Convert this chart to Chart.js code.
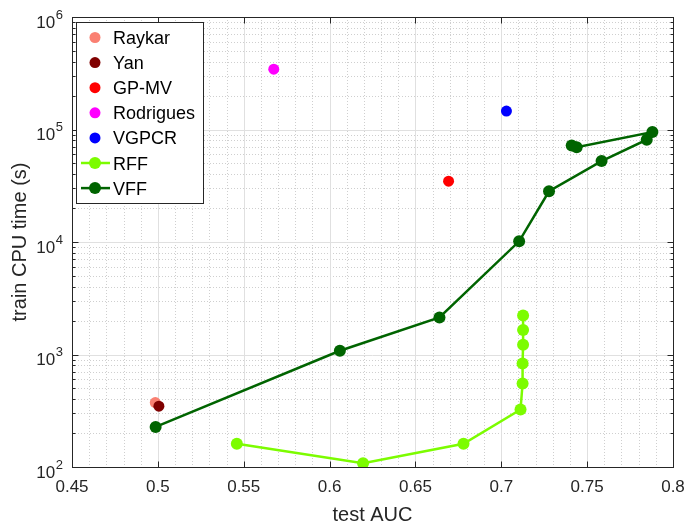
<!DOCTYPE html>
<html>
<head>
<meta charset="utf-8">
<title>train CPU time vs test AUC</title>
<script src="https://cdn.jsdelivr.net/npm/chart.js@4.4.1/dist/chart.umd.min.js"></script>
<style>
  html, body { margin: 0; padding: 0; background: #fff; }
  #wrap { width: 687px; height: 523px; }
</style>
</head>
<body>
<div id="wrap"><canvas id="chart" width="687" height="523"></canvas></div>
<script>
// tick values
const xTicks = [0.45, 0.5, 0.55, 0.6, 0.65, 0.7, 0.75, 0.8];
const yTicks = [1e2, 1e3, 1e4, 1e5, 1e6];

// single-point methods (test AUC, train time in s)
const raykarAuc = [0.4985];
const raykarTime = [374];
const yanAuc = [0.5006];
const yanTime = [347];
const gpmvAuc = [0.6693];
const gpmvTime = [34700];
const rodriguesAuc = [0.5675];
const rodriguesTime = [344000];
const vgpcrAuc = [0.703];
const vgpcrTime = [145900];

// curves
const rffAuc = [0.546, 0.6195, 0.678, 0.7112, 0.7124, 0.7124, 0.7127, 0.7127, 0.7127];
const rffTime = [161, 108, 161, 324, 552, 832, 1219, 1648, 2223];
const vffAuc = [0.4987, 0.606, 0.664, 0.7104, 0.7278, 0.7584, 0.7847, 0.788, 0.7439, 0.741];
const vffTime = [227, 1079, 2134, 10140, 28240, 52360, 81100, 94800, 69700, 72100];

const FONT = "'Liberation Sans', Arial, Helvetica, sans-serif";
const AXIS_COLOR = "#262626";

function toPoints(xs, ys) {
  return xs.map((x, i) => ({ x: x, y: ys[i] }));
}

const series = [
  { label: "Raykar", xs: raykarAuc, ys: raykarTime, color: "#FA8072", line: false, r: 5.5 },
  { label: "Yan", xs: yanAuc, ys: yanTime, color: "#800000", line: false, r: 5.5 },
  { label: "GP-MV", xs: gpmvAuc, ys: gpmvTime, color: "#FF0000", line: false, r: 5.5 },
  { label: "Rodrigues", xs: rodriguesAuc, ys: rodriguesTime, color: "#FF00FF", line: false, r: 5.5 },
  { label: "VGPCR", xs: vgpcrAuc, ys: vgpcrTime, color: "#0000FF", line: false, r: 5.5 },
  { label: "RFF", xs: rffAuc, ys: rffTime, color: "#7CFC00", line: true, r: 6 },
  { label: "VFF", xs: vffAuc, ys: vffTime, color: "#006400", line: true, r: 6 },
];

const datasets = series.map((s, i) => ({
  label: s.label,
  data: toPoints(s.xs, s.ys),
  showLine: s.line,
  borderColor: s.color,
  backgroundColor: s.color,
  borderWidth: 2.5,
  pointRadius: s.r,
  pointHoverRadius: s.r,
  pointBorderWidth: 0,
  pointBackgroundColor: s.color,
  order: series.length - i, // later series on top, like matlab
}));

function crisp(v) {
  return Math.round(v) + 0.5;
}

// matlab style grid, box, inward ticks, superscript labels and legend
const matlabAxes = {
  id: "matlabAxes",
  beforeDatasetsDraw(chart) {
    const { ctx, chartArea: a, scales: { x, y } } = chart;
    ctx.save();
    ctx.lineWidth = 1;

    // minor grid (dotted)
    ctx.strokeStyle = "#cfcfcf";
    ctx.setLineDash([1, 2]);
    ctx.beginPath();
    for (let i = 0; i < xTicks.length - 1; i++) {
      const step = (xTicks[i + 1] - xTicks[i]) / 5;
      for (let k = 1; k < 5; k++) {
        const px = crisp(x.getPixelForValue(xTicks[i] + k * step));
        ctx.moveTo(px, a.top);
        ctx.lineTo(px, a.bottom);
      }
    }
    for (let i = 0; i < yTicks.length - 1; i++) {
      for (let m = 2; m <= 9; m++) {
        const py = crisp(y.getPixelForValue(yTicks[i] * m));
        ctx.moveTo(a.left, py);
        ctx.lineTo(a.right, py);
      }
    }
    ctx.stroke();

    // major grid (solid)
    ctx.setLineDash([]);
    ctx.strokeStyle = "#e0e0e0";
    ctx.beginPath();
    xTicks.forEach((v) => {
      const px = crisp(x.getPixelForValue(v));
      ctx.moveTo(px, a.top);
      ctx.lineTo(px, a.bottom);
    });
    yTicks.forEach((v) => {
      const py = crisp(y.getPixelForValue(v));
      ctx.moveTo(a.left, py);
      ctx.lineTo(a.right, py);
    });
    ctx.stroke();
    ctx.restore();
  },

  afterDatasetsDraw(chart) {
    const { ctx, chartArea: a, scales: { x, y } } = chart;
    const L = crisp(a.left), R = crisp(a.right), T = crisp(a.top), B = crisp(a.bottom);
    ctx.save();
    ctx.strokeStyle = AXIS_COLOR;
    ctx.lineWidth = 1;

    // box
    ctx.strokeRect(L, T, R - L, B - T);

    // inward ticks
    ctx.beginPath();
    xTicks.forEach((v) => {
      const px = crisp(x.getPixelForValue(v));
      ctx.moveTo(px, B); ctx.lineTo(px, B - 6);
      ctx.moveTo(px, T); ctx.lineTo(px, T + 6);
    });
    yTicks.forEach((v) => {
      const py = crisp(y.getPixelForValue(v));
      ctx.moveTo(L, py); ctx.lineTo(L + 6, py);
      ctx.moveTo(R, py); ctx.lineTo(R - 6, py);
    });
    for (let i = 0; i < yTicks.length - 1; i++) {
      for (let m = 2; m <= 9; m++) {
        const py = crisp(y.getPixelForValue(yTicks[i] * m));
        ctx.moveTo(L, py); ctx.lineTo(L + 3, py);
        ctx.moveTo(R, py); ctx.lineTo(R - 3, py);
      }
    }
    ctx.stroke();

    // y tick labels 10^n
    ctx.fillStyle = AXIS_COLOR;
    ctx.textBaseline = "alphabetic";
    yTicks.forEach((v) => {
      const py = y.getPixelForValue(v);
      const exp = String(Math.round(Math.log10(v)));
      ctx.font = "13px " + FONT;
      const ew = ctx.measureText(exp).width;
      const right = a.left - 9;
      ctx.textAlign = "right";
      ctx.fillText(exp, right, py + 1.5);
      ctx.font = "17px " + FONT;
      ctx.fillText("10", right - ew - 0.5, py + 10.5);
    });

    // legend
    const lx = 76.5, ly = 22.5, lw = 127, lh = 181;
    ctx.fillStyle = "#fff";
    ctx.fillRect(lx, ly, lw, lh);
    ctx.strokeStyle = AXIS_COLOR;
    ctx.strokeRect(lx, ly, lw, lh);
    ctx.font = "18px " + FONT;
    ctx.textAlign = "left";
    series.forEach((s, i) => {
      const cy = 37.5 + i * 25.1;
      const mx = 95;
      if (s.line) {
        ctx.strokeStyle = s.color;
        ctx.lineWidth = 2.5;
        ctx.beginPath();
        ctx.moveTo(81, cy);
        ctx.lineTo(110, cy);
        ctx.stroke();
      }
      ctx.fillStyle = s.color;
      ctx.beginPath();
      ctx.arc(mx, cy, s.r, 0, Math.PI * 2);
      ctx.fill();
      ctx.fillStyle = "#000";
      ctx.fillText(s.label, 113, cy + 6.5);
    });
    ctx.restore();
  },
};

new Chart(document.getElementById("chart"), {
  type: "scatter",
  data: { datasets: datasets },
  options: {
    responsive: false,
    devicePixelRatio: 1,
    animation: false,
    events: [],
    layout: { padding: { top: 17, right: 14, left: 0, bottom: 0 } },
    plugins: {
      legend: { display: false },
      tooltip: { enabled: false },
    },
    scales: {
      x: {
        type: "linear",
        min: 0.45,
        max: 0.8,
        afterBuildTicks: (scale) => {
          scale.ticks = xTicks.map((v) => ({ value: v }));
        },
        afterFit: (scale) => {
          scale.height = 56;
          scale.paddingLeft = 0;
          scale.paddingRight = 0;
        },
        grid: { display: false, drawTicks: false },
        border: { display: false },
        ticks: {
          autoSkip: false,
          maxRotation: 0,
          padding: 10,
          color: AXIS_COLOR,
          font: { family: FONT, size: 17 },
          callback: (value) => String(value),
        },
        title: {
          display: true,
          text: "test AUC",
          color: AXIS_COLOR,
          font: { family: FONT, size: 20 },
          padding: { top: 0, bottom: -4 },
        },
      },
      y: {
        type: "logarithmic",
        min: 1e2,
        max: 1e6,
        afterBuildTicks: (scale) => {
          scale.ticks = yTicks.map((v) => ({ value: v, major: true }));
        },
        afterFit: (scale) => {
          scale.width = 72;
          scale.paddingTop = 0;
          scale.paddingBottom = 0;
        },
        grid: { display: false, drawTicks: false },
        border: { display: false },
        ticks: { display: false },
        title: {
          display: true,
          text: "train CPU time (s)",
          color: AXIS_COLOR,
          font: { family: FONT, size: 20 },
          padding: { top: 8, bottom: 0 },
        },
      },
    },
  },
  plugins: [matlabAxes],
});
</script>
</body>
</html>
